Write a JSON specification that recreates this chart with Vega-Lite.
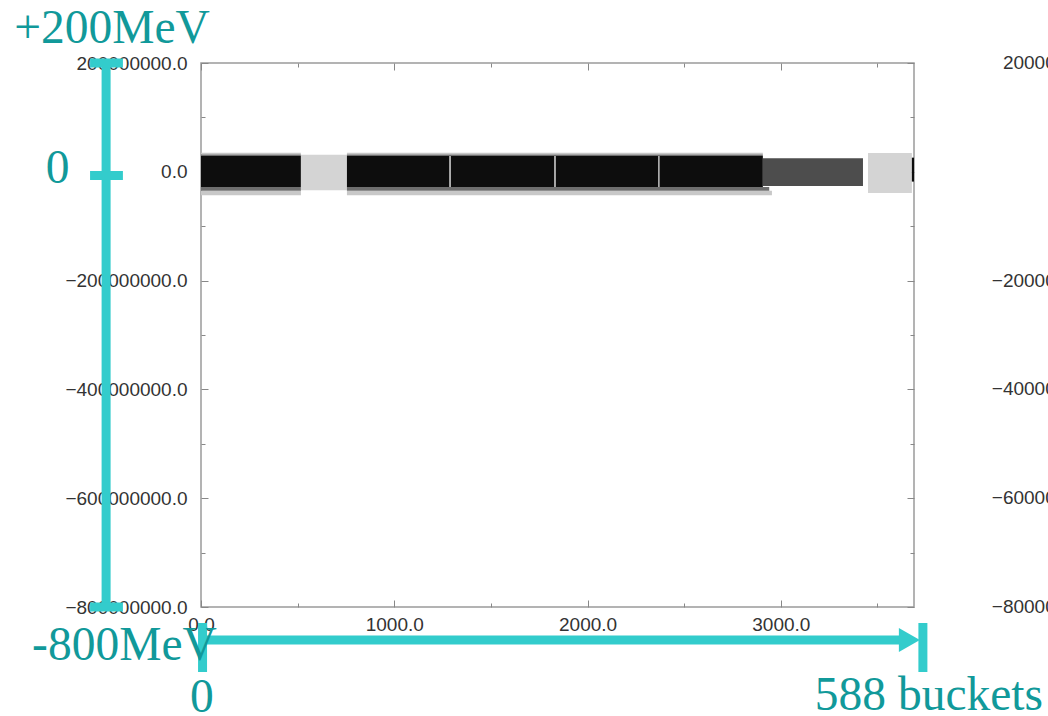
{
  "$schema": "https://vega.github.io/schema/vega-lite/v6.json",
  "width": 713,
  "height": 544,
  "autosize": {"type": "none"},
  "padding": {"left": 201, "top": 63, "right": 134, "bottom": 109},
  "background": "white",
  "config": {"view": {"stroke": "#9a9a9a", "strokeWidth": 1.5}},
  "datasets": {
    "bands": [
      {"x": 0, "x2": 517, "y": -43000000, "y2": -35000000, "kind": "fringe2"},
      {"x": 0, "x2": 517, "y": -35000000, "y2": -28000000, "kind": "fringe1"},
      {"x": 0, "x2": 517, "y": 32000000, "y2": 35000000, "kind": "fringe2"},
      {"x": 0, "x2": 517, "y": 29000000, "y2": 32000000, "kind": "fringe1"},
      {"x": 0, "x2": 517, "y": -28000000, "y2": 29000000, "kind": "dense"},
      {"x": 517, "x2": 755, "y": -34000000, "y2": 31500000, "kind": "sparse"},
      {"x": 755, "x2": 2954, "y": -43000000, "y2": -35000000, "kind": "fringe2"},
      {"x": 755, "x2": 2940, "y": -35000000, "y2": -28000000, "kind": "fringe1"},
      {"x": 755, "x2": 2907, "y": 32000000, "y2": 35000000, "kind": "fringe2"},
      {"x": 755, "x2": 2907, "y": 29000000, "y2": 32000000, "kind": "fringe1"},
      {"x": 755, "x2": 2907, "y": -28000000, "y2": 29000000, "kind": "dense"},
      {"x": 2907, "x2": 3425, "y": -26000000, "y2": 25000000, "kind": "medium"},
      {"x": 3451, "x2": 3678, "y": -39000000, "y2": 34500000, "kind": "sparse"},
      {"x": 3678, "x2": 3689, "y": -18000000, "y2": 26000000, "kind": "dense"}
    ],
    "gaps": [
      {"x": 1284, "x2": 1293, "y": -28000000, "y2": 29000000},
      {"x": 1827, "x2": 1836, "y": -28000000, "y2": 29000000},
      {"x": 2365, "x2": 2373, "y": -28000000, "y2": 29000000}
    ],
    "guides": [
      {"x": -491, "x2": -491, "y": 200000000, "y2": -800000000},
      {"x": -574, "x2": -404, "y": 200000000, "y2": 200000000},
      {"x": -574, "x2": -404, "y": -6800000, "y2": -6800000},
      {"x": -574, "x2": -404, "y": -800000000, "y2": -800000000},
      {"x": 0, "x2": 3626, "y": -860700000, "y2": -860700000},
      {"x": 8, "x2": 8, "y": -829400000, "y2": -919500000},
      {"x": 3735, "x2": 3735, "y": -829400000, "y2": -919500000}
    ],
    "arrowhead": [
      {"x": 3665, "y": -860700000}
    ],
    "notes": [
      {"x": -460, "y": 236800000, "text": "+200MeV"},
      {"x": -742, "y": -20600000, "text": "0"},
      {"x": -396, "y": -897400000, "text": "-800MeV"},
      {"x": 5, "y": -993000000, "text": "0"},
      {"x": 3766, "y": -989000000, "text": "588 buckets"}
    ],
    "ghost": [
      {"x": 4723, "y": 200000000, "text": "200000000.0"},
      {"x": 4723, "y": 0, "text": "0.0"},
      {"x": 4723, "y": -200000000, "text": "−200000000.0"},
      {"x": 4723, "y": -400000000, "text": "−400000000.0"},
      {"x": 4723, "y": -600000000, "text": "−600000000.0"},
      {"x": 4723, "y": -800000000, "text": "−800000000.0"}
    ]
  },
  "resolve": {"axis": {"x": "independent", "y": "independent"}},
  "layer": [
    {
      "data": {"name": "bands"},
      "mark": {"type": "rect"},
      "encoding": {
        "x": {
          "field": "x", "type": "quantitative",
          "scale": {"domain": [0, 3689], "nice": false, "zero": false},
          "axis": {
            "orient": "bottom", "title": null, "grid": false, "domain": false,
            "values": [0, 500, 1000, 1500, 2000, 2500, 3000, 3500],
            "labelExpr": "datum.value % 1000 === 0 ? format(datum.value, '.1f') : ''",
            "tickSize": {"condition": {"test": "datum.value % 1000 === 0", "value": -7}, "value": -4},
            "tickColor": "#888888", "tickWidth": 1,
            "labelFont": "Liberation Sans", "labelFontSize": 19, "labelColor": "#333333",
            "labelPadding": 15, "labelFlush": false, "labelOverlap": false
          }
        },
        "x2": {"field": "x2"},
        "y": {
          "field": "y", "type": "quantitative",
          "scale": {"domain": [-800000000, 200000000], "nice": false, "zero": false},
          "axis": {
            "orient": "left", "title": null, "grid": false, "domain": false,
            "values": [-800000000, -700000000, -600000000, -500000000, -400000000, -300000000, -200000000, -100000000, 0, 100000000, 200000000],
            "labelExpr": "datum.value % 200000000 === 0 ? format(datum.value, '.1f') : ''",
            "tickSize": {"condition": {"test": "datum.value % 200000000 === 0", "value": -7}, "value": -4},
            "tickColor": "#888888", "tickWidth": 1,
            "labelFont": "Liberation Sans", "labelFontSize": 19, "labelColor": "#333333",
            "labelPadding": 21, "labelOverlap": false
          }
        },
        "y2": {"field": "y2"},
        "color": {
          "field": "kind", "type": "nominal", "legend": null,
          "scale": {
            "domain": ["dense", "fringe1", "fringe2", "sparse", "medium"],
            "range": ["#0d0d0d", "#6e6e6e", "#c8c8c8", "#d4d4d4", "#4d4d4d"]
          }
        }
      }
    },
    {
      "data": {"name": "gaps"},
      "mark": {"type": "rect", "color": "#bdbdbd"},
      "encoding": {
        "x": {
          "field": "x", "type": "quantitative",
          "axis": {
            "orient": "top", "title": null, "grid": false, "domain": false, "labels": false,
            "values": [0, 500, 1000, 1500, 2000, 2500, 3000, 3500],
            "tickSize": {"condition": {"test": "datum.value % 1000 === 0", "value": -7}, "value": -4},
            "tickColor": "#888888", "tickWidth": 1
          }
        },
        "x2": {"field": "x2"},
        "y": {
          "field": "y", "type": "quantitative",
          "axis": {
            "orient": "right", "title": null, "grid": false, "domain": false, "labels": false,
            "values": [-800000000, -700000000, -600000000, -500000000, -400000000, -300000000, -200000000, -100000000, 0, 100000000, 200000000],
            "tickSize": {"condition": {"test": "datum.value % 200000000 === 0", "value": -7}, "value": -4},
            "tickColor": "#888888", "tickWidth": 1
          }
        },
        "y2": {"field": "y2"}
      }
    },
    {
      "data": {"name": "guides"},
      "mark": {"type": "rule", "color": "#33cccc", "strokeWidth": 9},
      "encoding": {
        "x": {"field": "x", "type": "quantitative", "axis": null},
        "x2": {"field": "x2"},
        "y": {"field": "y", "type": "quantitative", "axis": null},
        "y2": {"field": "y2"}
      }
    },
    {
      "data": {"name": "arrowhead"},
      "mark": {"type": "point", "shape": "M-0.875,-1 L0.875,0 L-0.875,1 Z", "filled": true, "color": "#33cccc", "opacity": 1, "size": 576, "strokeWidth": 0},
      "encoding": {
        "x": {"field": "x", "type": "quantitative", "axis": null},
        "y": {"field": "y", "type": "quantitative", "axis": null}
      }
    },
    {
      "data": {"name": "notes"},
      "mark": {"type": "text", "font": "Liberation Serif", "fontSize": 47.5, "color": "#11999a", "align": "center", "baseline": "alphabetic"},
      "encoding": {
        "x": {"field": "x", "type": "quantitative", "axis": null},
        "y": {"field": "y", "type": "quantitative", "axis": null},
        "text": {"field": "text"}
      }
    },
    {
      "data": {"name": "ghost"},
      "mark": {"type": "text", "font": "Liberation Sans", "fontSize": 19, "color": "#333333", "align": "right", "baseline": "middle"},
      "encoding": {
        "x": {"field": "x", "type": "quantitative", "axis": null},
        "y": {"field": "y", "type": "quantitative", "axis": null},
        "text": {"field": "text"}
      }
    }
  ]
}
